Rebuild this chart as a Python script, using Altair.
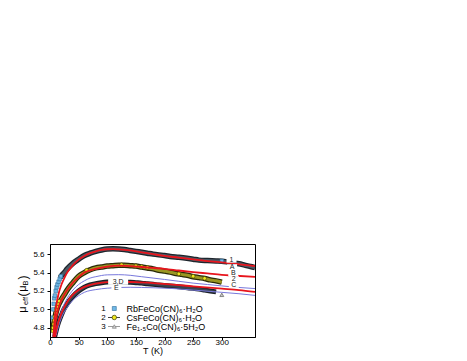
import altair as alt
import pandas as pd

FONT = "Liberation Sans"

# ---------------- data ----------------
# series 1: RbFeCo(CN)6.H2O (dense dark band)
s1_T = [18, 20, 25, 30, 40, 50, 60, 70, 80, 90, 100, 110, 120, 130, 140, 150, 160, 170, 180,
        190, 200, 210, 225, 250, 260, 275, 290, 300, 310, 320, 330, 340, 350, 358]
s1_mu = [5.345, 5.365, 5.40, 5.44, 5.50, 5.545, 5.585, 5.61, 5.63, 5.645, 5.655, 5.658, 5.656,
         5.65, 5.64, 5.63, 5.62, 5.61, 5.60, 5.592, 5.585, 5.575, 5.565, 5.545, 5.535, 5.53,
         5.526, 5.523, 5.515, 5.505, 5.495, 5.48, 5.465, 5.455]
# visible single squares of series 1
s1_sq_T = [5, 6, 6.5, 7.5, 8.5, 10, 11.5, 13, 15, 17, 19, 300]
s1_sq_mu = [4.91, 5.00, 5.06, 5.12, 5.15, 5.20, 5.24, 5.27, 5.30, 5.33, 5.36, 5.525]

# series 2: CsFeCo(CN)6.H2O
s2_T = [5, 6, 8, 10, 12, 15, 20, 25, 30, 40, 50, 60, 70, 80, 90, 100, 110, 120, 130, 140, 150,
        160, 170, 180, 190, 200, 210, 220, 230, 240, 250, 260, 270, 280, 290, 300]
s2_mu = [4.77, 4.82, 4.89, 4.95, 5.00, 5.05, 5.11, 5.16, 5.21, 5.29, 5.36, 5.40, 5.43, 5.45,
         5.46, 5.47, 5.475, 5.48, 5.48, 5.475, 5.47, 5.46, 5.45, 5.44, 5.425, 5.415, 5.404,
         5.39, 5.38, 5.37, 5.355, 5.345, 5.335, 5.32, 5.31, 5.295]
s2_circ_T = [5, 5.5, 6.5, 7.5, 8.5, 10, 11, 12.5, 14, 16, 64, 125, 150, 160, 170, 225, 250, 270]
s2_circ_mu = [4.765, 4.80, 4.84, 4.88, 4.92, 4.96, 5.00, 5.03, 5.06, 5.09, 5.425, 5.484, 5.472,
              5.463, 5.455, 5.386, 5.36, 5.337]

# series 3: Fe1.5Co(CN)6.5H2O
s3_T = [8, 10, 12, 15, 20, 25, 30, 40, 50, 60, 70, 80, 90, 100, 110, 120, 130, 140, 150, 160,
        170, 180, 190, 200, 210, 225, 240, 250, 260, 270, 280, 290]
s3_mu = [4.70, 4.75, 4.80, 4.86, 4.94, 5.01, 5.06, 5.14, 5.20, 5.24, 5.265, 5.28, 5.29, 5.297,
         5.30, 5.30, 5.298, 5.295, 5.29, 5.285, 5.278, 5.272, 5.265, 5.26, 5.254, 5.245, 5.235,
         5.228, 5.22, 5.21, 5.20, 5.19]
s3_tri_T = [300]
s3_tri_mu = [5.158]

# fit curves
A_T = [6, 7, 8, 10, 12, 15, 20, 25, 30, 40, 50, 60, 70, 80, 90, 100, 110, 120, 140, 160, 180,
       200, 225, 250, 275, 300, 325, 358]
A_mu = [4.70, 4.80, 4.88, 5.00, 5.08, 5.17, 5.27, 5.34, 5.40, 5.48, 5.54, 5.58, 5.61, 5.63,
        5.645, 5.653, 5.655, 5.652, 5.64, 5.62, 5.60, 5.58, 5.562, 5.542, 5.525, 5.51, 5.495, 5.47]
B_T = [7, 8, 10, 15, 20, 30, 40, 50, 60, 80, 100, 120, 140, 160, 180, 200, 225, 250, 275, 300,
       325, 358]
B_mu = [4.70, 4.76, 4.87, 5.02, 5.10, 5.21, 5.29, 5.35, 5.40, 5.44, 5.465, 5.475, 5.47, 5.46,
        5.45, 5.44, 5.422, 5.405, 5.39, 5.375, 5.365, 5.352]
C_T = [10, 12, 15, 20, 25, 30, 40, 50, 60, 70, 80, 90, 100, 120, 140, 160, 180, 200, 225, 250,
       275, 300, 325, 358]
C_mu = [4.72, 4.80, 4.88, 4.98, 5.06, 5.12, 5.21, 5.27, 5.31, 5.34, 5.355, 5.368, 5.375, 5.377,
        5.37, 5.355, 5.34, 5.325, 5.305, 5.285, 5.27, 5.255, 5.24, 5.226]
D_T = [9, 10, 15, 20, 30, 40, 50, 60, 80, 100, 120, 150, 180, 210, 250, 300, 330, 358]
D_mu = [4.70, 4.74, 4.87, 4.96, 5.08, 5.16, 5.21, 5.245, 5.28, 5.297, 5.30, 5.295, 5.285,
        5.272, 5.25, 5.225, 5.21, 5.19]
E_T = [11, 12, 15, 20, 30, 40, 50, 60, 80, 100, 120, 140, 160, 180, 210, 250, 300, 330, 358]
E_mu = [4.72, 4.75, 4.82, 4.91, 5.02, 5.10, 5.15, 5.185, 5.215, 5.23, 5.238, 5.24, 5.238,
        5.235, 5.228, 5.21, 5.185, 5.17, 5.152]

label_text = ["1", "A", "B", "2", "C", "3,D", "E"]
label_T = [317, 318, 320, 321, 321, 119, 116]
label_mu = [5.54, 5.458, 5.392, 5.328, 5.266, 5.30, 5.234]

legend_num = ["1", "2", "3"]
legend_names = ["RbFeCo(CN)₆·H₂O", "CsFeCo(CN)₆·H₂O", "Fe₁.₅Co(CN)₆·5H₂O"]

x_ticks = [0, 50, 100, 150, 200, 250, 300]
y_ticks = [4.8, 5.0, 5.2, 5.4, 5.6]

# ---------------- chart ----------------
X = alt.X("T:Q", scale=alt.Scale(domain=[0, 358], nice=False, zero=False),
          axis=alt.Axis(values=x_ticks, title="T (K)", grid=False, tickSize=2.5,
                        labelPadding=-1, titlePadding=0, labelFlush=False))
Y = alt.Y("mu:Q", scale=alt.Scale(domain=[4.70, 5.71], nice=False, zero=False),
          axis=alt.Axis(values=y_ticks, format=".1f", title=None, grid=False, tickSize=3,
                        labelPadding=3, labelFlush=False))


def df_of(T, mu):
    return pd.DataFrame({"T": T, "mu": mu})


def line(T, mu, color, width):
    return alt.Chart(df_of(T, mu)).mark_line(
        color=color, strokeWidth=width, clip=True, interpolate="monotone"
    ).encode(x=X, y=Y)


def points(T, mu, shape, size, fill, stroke, sw=0.6):
    return alt.Chart(df_of(T, mu)).mark_point(
        shape=shape, size=size, filled=True, fill=fill, stroke=stroke, strokeWidth=sw,
        opacity=1, clip=True
    ).encode(x=X, y=Y)


layers = []
# dense data bands
layers.append(line(s1_T, s1_mu, "#1e252c", 5.5))
layers.append(line(s1_T, s1_mu, "#4b5a66", 3))
layers.append(line(s2_T, s2_mu, "#2a2a08", 5.5))
layers.append(line(s2_T, s2_mu, "#9a9622", 3))
layers.append(line(s3_T, s3_mu, "#1b2028", 5))
layers.append(line(s3_T, s3_mu, "#3a4450", 2.5))
# blue fits
layers.append(line(C_T, C_mu, "#7878dc", 1))
layers.append(line(E_T, E_mu, "#7878dc", 1))
# individual markers
layers.append(points(s1_sq_T, s1_sq_mu, "square", 13, "#6fb7e6", "#2f6f9a"))
layers.append(points(s2_circ_T, s2_circ_mu, "circle", 14, "#f0e81e", "#3a3a00"))
# red fits
layers.append(line(A_T, A_mu, "#e8151d", 1.8))
layers.append(line(B_T, B_mu, "#e8151d", 1.8))
layers.append(line(D_T, D_mu, "#e8151d", 1.8))
layers.append(points(s3_tri_T, s3_tri_mu, "triangle-up", 16, "#c8c8c8", "#707070", 0.8))

# curve labels with white boxes behind them
lab = pd.DataFrame({"txt": label_text, "T": label_T, "mu": label_mu})
lab["w"] = lab["txt"].str.len() * 5 + 5
lab["shape"] = lab["w"].apply(lambda w: "M-1,{h}H1V{H}H-1Z".format(h=-3.0 / (w / 2), H=3.0 / (w / 2)))
lab["size"] = lab["w"] ** 2
layers.append(alt.Chart(lab).mark_point(filled=True, color="white", opacity=1, strokeWidth=0).encode(
    x=X, y=Y, shape=alt.Shape("shape:N", scale=None, legend=None),
    size=alt.Size("size:Q", scale=None, legend=None)))
layers.append(alt.Chart(lab).mark_text(font=FONT, fontSize=7, color="#222222",
                                       baseline="middle", align="center").encode(
    x=X, y=Y, text="txt:N"))

# legend
one = pd.DataFrame({"d": [0]})


def txt(s, x, y, size, angle=0, align="center", color="black"):
    return alt.Chart(one).mark_text(text=s, font=FONT, fontSize=size, angle=angle, align=align,
                                    baseline="middle", color=color).encode(
        x=alt.value(x), y=alt.value(y))


rows_y = [64.5, 73.5, 82.5]
for i in range(3):
    layers.append(txt(legend_num[i], 53.5, rows_y[i], 8))
    layers.append(txt(legend_names[i], 76.5, rows_y[i], 9, align="left"))
layers.append(alt.Chart(one).mark_rule(color="#444444", strokeWidth=1).encode(
    x=alt.value(58), x2=alt.value(70), y=alt.value(rows_y[1])))
layers.append(alt.Chart(one).mark_rule(color="#9a9a9a", strokeWidth=1).encode(
    x=alt.value(58), x2=alt.value(70), y=alt.value(rows_y[2])))
layers.append(alt.Chart(one).mark_point(shape="square", size=16, filled=True, fill="#6fb7e6",
                                        stroke="#2f6f9a", strokeWidth=0.6, opacity=1).encode(
    x=alt.value(64.3), y=alt.value(rows_y[0])))
layers.append(alt.Chart(one).mark_point(shape="circle", size=20, filled=True, fill="#f0e81e",
                                        stroke="#3a3a00", strokeWidth=0.7, opacity=1).encode(
    x=alt.value(64.3), y=alt.value(rows_y[1])))
layers.append(alt.Chart(one).mark_point(shape="triangle-up", size=16, filled=True, fill="#d0d0d0",
                                        stroke="#808080", strokeWidth=0.7, opacity=1).encode(
    x=alt.value(64.3), y=alt.value(rows_y[2])))

# y-axis title  mu_eff (mu_B)
layers.append(txt("μ", -27, 65.5, 11, angle=270))
layers.append(txt("eff", -24.5, 57, 7.5, angle=270))
layers.append(txt("(", -27, 50.5, 12, angle=270))
layers.append(txt("μ", -27, 44.5, 11, angle=270))
layers.append(txt("B", -24.5, 39, 7.5, angle=270))
layers.append(txt(")", -27, 33.5, 12, angle=270))

chart = alt.layer(*layers).properties(
    width=205, height=93,
    padding={"left": 42, "top": 236, "right": 12, "bottom": 24},
    autosize=alt.AutoSizeParams(type="none"),
).configure_view(stroke="black", strokeWidth=1).configure_axis(
    labelFont=FONT, labelFontSize=8, labelColor="black", titleFont=FONT, titleFontSize=9,
    titleFontWeight="normal", titleColor="black", domainColor="black", tickColor="black",
    domainWidth=1, tickWidth=1
)

chart.save("out.html", embed_options={"renderer": "svg", "actions": False})
